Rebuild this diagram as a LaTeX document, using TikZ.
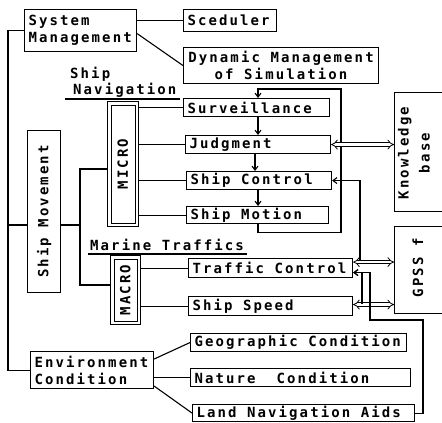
\documentclass[tikz,border=0pt]{standalone}
\usepackage{fontspec}
\setmainfont{DejaVu Sans Mono}[LetterSpace=15]
\usetikzlibrary{arrows.meta}
% one left-aligned line of a fixed width
\newcommand\boxline[2]{\makebox[#1][l]{#2}}
\tikzset{
  box/.style={draw, line width=1.1pt, anchor=north west, inner xsep=4pt, inner ysep=0pt, align=left},
  frame/.style={draw, line width=1.1pt, anchor=north west, inner sep=0pt},
  inframe/.style={draw, line width=1.3pt, anchor=north west, inner sep=0pt},
  side/.style={rotate=90, inner sep=0pt, align=center},
  link/.style={line width=1.1pt},
  arr/.style={line width=1.1pt, -{Straight Barb[length=4pt,width=6pt]}},
  dbl/.style={double, double distance=2.6pt, line width=0.8pt, {Implies[length=5pt]}-{Implies[length=5pt]}},
  uline/.style={line width=2.4pt},
}
\begin{document}
\begin{tikzpicture}[x=1pt, y=-1pt, font=\fontsize{14}{17}\selectfont\bfseries]
\useasboundingbox (0,0) rectangle (442,423);
\clip (0,0) rectangle (442,423);

% top level: system management
\node[box, minimum height=42pt] (sm) at (24,9) {\boxline{104pt}{System}\\\boxline{104pt}{Management}};
\node[box, minimum height=22pt] (sch) at (183,9) {\boxline{85pt}{Sceduler}};
\node[box, minimum height=36pt, align=center] (dyn) at (183,47) {\makebox[187pt]{Dynamic Management}\\\makebox[187pt]{of Simulation}};

% ship movement and its two levels
\node[frame, minimum width=33pt, minimum height=162pt] (smv) at (27,130) {};
\node[side] (smvt) at (smv.center) {Ship Movement};

\node[anchor=base west, inner sep=0pt] (navA) at (70,78) {Ship};
\node[anchor=base west, inner sep=0pt] (navB) at (73,94) {Navigation};
\draw[uline] (65,99) -- (180,99);

\node[frame, line width=0.8pt, minimum width=31pt, minimum height=125pt] (micro) at (107,101) {};
\node[inframe, minimum width=24pt, minimum height=118pt] (microin) at (110.5,104.5) {};
\node[side] (microt) at (micro.center) {MICRO};

\node[anchor=base west, inner sep=0pt] (mt) at (90,250) {Marine Traffics};
\draw[uline] (88,254) -- (247,254);

\node[frame, line width=0.8pt, minimum width=30pt, minimum height=69pt] (macro) at (110,255) {};
\node[inframe, minimum width=23pt, minimum height=62pt] (macroin) at (113.5,258.5) {};
\node[side] (macrot) at (macro.center) {MACRO};

% navigation tasks
\node[box, minimum height=18pt] (sv) at (183,98) {\boxline{138pt}{Surveillance}};
\node[box, minimum height=18pt] (jd) at (185,135) {\boxline{137pt}{Judgment}};
\node[box, minimum height=18pt] (sc) at (186,171) {\boxline{137pt}{Ship Control}};
\node[box, minimum height=17pt] (smo) at (186,206) {\boxline{134pt}{Ship Motion}};

% traffic tasks
\node[box, minimum height=19pt] (tc) at (188,258) {\boxline{156pt}{Traffic Control}};
\node[box, minimum height=19pt] (ss) at (188,296) {\boxline{156pt}{Ship Speed}};

% environment
\node[box, minimum height=37pt] (env) at (30,351) {\boxline{115pt}{Environment}\\\boxline{115pt}{Condition}};
\node[box, minimum height=18pt] (geo) at (190,333) {\boxline{208pt}{Geographic Condition}};
\node[box, minimum height=18pt] (nat) at (190,368) {\boxline{212pt}{Nature\ \ Condition}};
\node[box, minimum height=17pt] (lna) at (192,404) {\boxline{214pt}{Land Navigation Aids}};

% external blocks (cut at the right edge)
\node[frame, minimum width=80pt, minimum height=119pt] (kb) at (394,92) {};
\node[side, font=\fontsize{14}{21}\selectfont\bfseries] (kbt) at (414,153) {Knowledge\\base};
\node[frame, minimum width=80pt, minimum height=87pt] (gp) at (394,226) {};
\node[side] (gpt) at (418,268) {GPSS f};

% helper coordinates
\coordinate (rail) at (8,0);
\coordinate (fork) at (80,225);
\coordinate (mi) at (80,169);
\coordinate (ma) at (80,285);
\coordinate (ax) at (258,0);
\coordinate (bx) at (255,0);
\coordinate (lp) at (341,89);
\coordinate (up) at (360,261);
\coordinate (sup) at (362,304);
\coordinate (tcin) at ([yshift=-4.5pt]tc.east);
\coordinate (rt) at (423,320);
\coordinate (mid) at (370,320);

% hierarchy links
\draw[link] (sm.west) -| (rail |- env.west) -- (env.west);
\draw[link] (rail |- fork) -- (fork -| smv.west);
\draw[link] (fork -| smv.east) -- (fork);
\draw[link] (mi -| micro.west) -- (mi) -- (ma) -- (ma -| macro.west);
\draw[link] (sm.east |- sch.west) -- (sch.west);
\draw[link] ([yshift=-3pt]sm.east) -- (dyn.west);
\foreach \t in {sv,jd,sc,smo} \draw[link] (micro.east |- \t.west) -- (\t.west);
\foreach \t in {tc,ss} \draw[link] (macro.east |- \t.west) -- (\t.west);
\draw[link] ([yshift=11pt]env.east) -- (geo.west);
\draw[link] (nat.west -| env.east) -- (nat.west);
\draw[link] ([yshift=-16pt]env.east) -- (lna.west);

% navigation cycle
\draw[arr] (sv.south -| ax) -- (jd.north -| ax);
\draw[arr] (jd.south -| bx) -- (sc.north -| bx);
\draw[arr] (sc.south -| ax) -- (smo.north -| ax);
\draw[arr] (smo.south -| ax) -- ++(0,8) -| (lp) -| (sv.north -| ax);

% data exchange
\draw[dbl] (jd.east) -- (jd.east -| kb.west);
\draw[dbl] ([yshift=6pt]tc.east) -- ([yshift=6pt]tc.east -| gp.west);
\draw[dbl] ([yshift=1.5pt]ss.east) -- ([yshift=1.5pt]ss.east -| gp.west);
\draw[arr] (up) |- (sc.east);
\draw[arr] (sup) |- (tcin);
\draw[arr] (lna.east) -| (rt) -- (mid) |- (tcin);
\end{tikzpicture}
\end{document}
